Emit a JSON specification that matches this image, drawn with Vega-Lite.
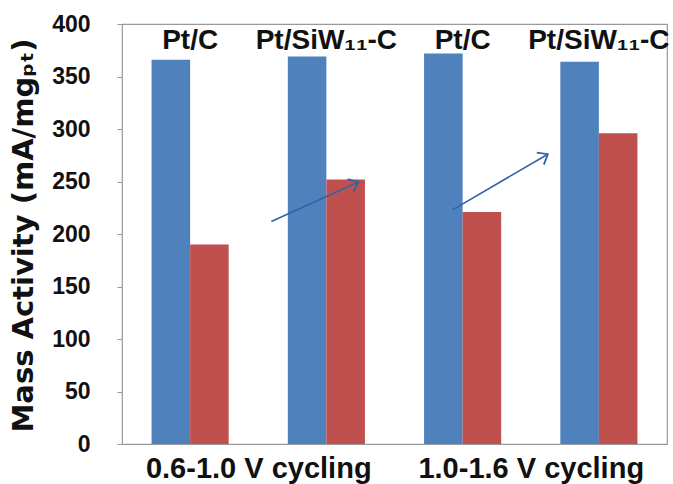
{
  "$schema": "https://vega.github.io/schema/vega-lite/v6.json",
  "width": 545,
  "height": 420,
  "autosize": {"type": "none"},
  "padding": {"left": 122, "top": 24, "right": 6, "bottom": 40},
  "background": "white",
  "config": {
    "view": {"stroke": "#9a9a9a", "strokeWidth": 1.2},
    "axis": {"grid": false},
    "axisY": {
      "titleFont": "DejaVu Sans", "titleFontSize": 29, "titleFontWeight": "bold", "titleColor": "#111",
      "titleX": -99, "titleY": 211, "titleAngle": -90, "titleAlign": "center", "titleBaseline": "middle",
      "labelFont": "Liberation Sans", "labelFontSize": 23, "labelFontWeight": "bold", "labelColor": "#111",
      "labelPadding": 27, "tickSize": 5, "tickColor": "#9a9a9a", "domain": false
    }
  },
  "datasets": {
    "bars": [
      {"group": "A", "series": "initial", "value": 366},
      {"group": "A", "series": "after", "value": 190},
      {"group": "B", "series": "initial", "value": 369},
      {"group": "B", "series": "after", "value": 252},
      {"group": "C", "series": "initial", "value": 372},
      {"group": "C", "series": "after", "value": 221},
      {"group": "D", "series": "initial", "value": 364},
      {"group": "D", "series": "after", "value": 296}
    ],
    "labels": [
      {"group": "A", "label": "Pt/C"},
      {"group": "B", "label": "Pt/SiW₁₁-C"},
      {"group": "C", "label": "Pt/C"},
      {"group": "D", "label": "Pt/SiW₁₁-C"}
    ],
    "arrows": [
      {"x0": 1.096, "y0": 212, "x1": 1.735, "y1": 249.5, "angle": 336},
      {"x0": 2.426, "y0": 223, "x1": 3.125, "y1": 276, "angle": 329.5}
    ]
  },
  "layer": [
    {
      "layer": [
        {
          "data": {"name": "bars"},
          "mark": {"type": "bar"},
          "encoding": {
            "x": {"field": "group", "type": "nominal", "axis": null,
                  "scale": {"paddingInner": 0.434, "paddingOuter": 0.217}},
            "xOffset": {"field": "series", "type": "nominal", "sort": ["initial", "after"], "scale": {"padding": 0}},
            "y": {"field": "value", "type": "quantitative",
                  "title": "Mass Activity (mA/mgₚₜ)",
                  "scale": {"domain": [0, 400], "nice": false},
                  "axis": {"values": [0, 50, 100, 150, 200, 250, 300, 350, 400]}},
            "color": {"field": "series", "type": "nominal", "legend": null,
                      "scale": {"domain": ["initial", "after"], "range": ["#4F81BD", "#C0504D"]}}
          }
        },
        {
          "data": {"name": "labels"},
          "mark": {"type": "text", "font": "Liberation Sans", "fontSize": 28, "fontWeight": "bold", "color": "#111", "baseline": "alphabetic"},
          "encoding": {
            "x": {"field": "group", "type": "nominal", "axis": null},
            "y": {"datum": 376, "type": "quantitative", "title": "Mass Activity (mA/mgₚₜ)"},
            "text": {"field": "label"}
          }
        }
      ]
    },
    {
      "layer": [
        {
          "data": {"name": "arrows"},
          "mark": {"type": "rule", "color": "#2F64A6", "strokeWidth": 1.6},
          "encoding": {
            "x": {"field": "x0", "type": "quantitative",
                  "scale": {"domain": [0, 4], "nice": false, "zero": false},
                  "axis": {"values": [1, 3], "title": null, "ticks": false, "domain": false,
                           "labelExpr": "datum.value == 1 ? '0.6-1.0 V cycling' : '1.0-1.6 V cycling'",
                           "labelFont": "Liberation Sans", "labelFontSize": 29, "labelFontWeight": "bold", "labelColor": "#111",
                           "labelPadding": 10, "labelFlush": false, "labelLimit": 0, "labelOverlap": false}},
            "x2": {"field": "x1"},
            "y": {"field": "y0", "type": "quantitative", "title": "Mass Activity (mA/mgₚₜ)"},
            "y2": {"field": "y1"}
          }
        },
        {
          "data": {"name": "arrows"},
          "mark": {"type": "point", "shape": "M-1,-0.8L0,0L-1,0.8", "filled": false, "stroke": "#2F64A6", "strokeWidth": 1.8, "size": 300, "opacity": 1},
          "encoding": {
            "x": {"field": "x1", "type": "quantitative"},
            "y": {"field": "y1", "type": "quantitative", "title": "Mass Activity (mA/mgₚₜ)"},
            "angle": {"field": "angle", "type": "quantitative", "scale": null}
          }
        }
      ]
    }
  ],
  "resolve": {"scale": {"x": "independent"}}
}
